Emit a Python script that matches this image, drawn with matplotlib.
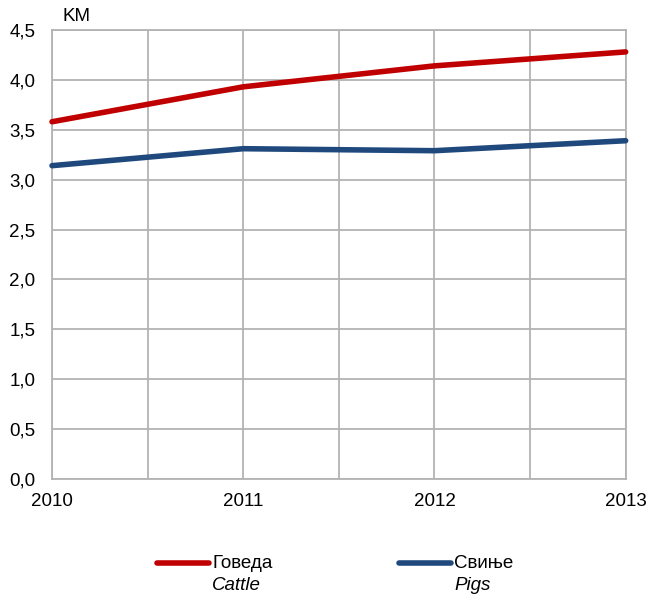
import matplotlib
matplotlib.use("Agg")
import matplotlib.pyplot as plt
from matplotlib.lines import Line2D
from matplotlib.ticker import FuncFormatter, MultipleLocator

plt.rcParams['font.family'] = ['Liberation Sans Narrow', 'Liberation Sans', 'DejaVu Sans']

# ── Data ───────────────────────────────────────────────────────────────────
years = [2010, 2011, 2012, 2013]
cattle = [3.58, 3.93, 4.14, 4.28]
pigs = [3.14, 3.31, 3.29, 3.39]
unit_label = "KM"
legend_sr = ["Говеда", "Свиње"]
legend_en = ["Cattle", "Pigs"]

RED = "#c00000"
BLUE = "#1f497d"
GRID = "#b3b3b3"
FS = 13.5

fig = plt.figure(figsize=(6.47, 5.99), dpi=100)
ax = fig.add_axes([0.0804, 0.2003, 0.8866, 0.7497])

ax.plot(years, cattle, color=RED, lw=4.0, solid_capstyle="round", clip_on=False, zorder=3)
ax.plot(years, pigs, color=BLUE, lw=4.0, solid_capstyle="round", clip_on=False, zorder=3)

ax.set_xlim(2010, 2013)
ax.set_ylim(0, 4.5)
ax.set_xticks(years)
ax.xaxis.set_minor_locator(MultipleLocator(0.5))
ax.yaxis.set_major_locator(MultipleLocator(0.5))
ax.yaxis.set_major_formatter(FuncFormatter(lambda v, p: f"{v:.1f}".replace(".", ",")))
ax.xaxis.set_major_formatter(FuncFormatter(lambda v, p: f"{int(v)}"))

ax.grid(True, which="both", axis="x", color=GRID, lw=1.3)
ax.grid(True, which="major", axis="y", color=GRID, lw=1.3)
ax.set_axisbelow(True)
for s in ax.spines.values():
    s.set_color(GRID)
    s.set_linewidth(1.3)

ax.tick_params(axis="both", which="both", length=0, labelsize=FS, colors="black")
ax.tick_params(axis="y", pad=12)
ax.tick_params(axis="x", pad=10)

ax.text(0.018, 1.01, unit_label, transform=ax.transAxes, fontsize=FS, va="bottom", ha="left")

# ── Legend (manual, two-line labels) ───────────────────────────────────────
W, H = 647, 599
for (x0, col, sr, en) in [(157, RED, legend_sr[0], legend_en[0]),
                          (399, BLUE, legend_sr[1], legend_en[1])]:
    fig.add_artist(Line2D([x0 / W, (x0 + 52) / W], [1 - 563 / H, 1 - 563 / H],
                          color=col, lw=4.0, solid_capstyle="round"))
    fig.text((x0 + 55) / W, 1 - 563 / H, sr, fontsize=FS, va="center", ha="left")
    fig.text((x0 + 55) / W, 1 - 585 / H, en, fontsize=FS, va="center", ha="left",
             style="italic")

fig.savefig("out.png", dpi=100)
